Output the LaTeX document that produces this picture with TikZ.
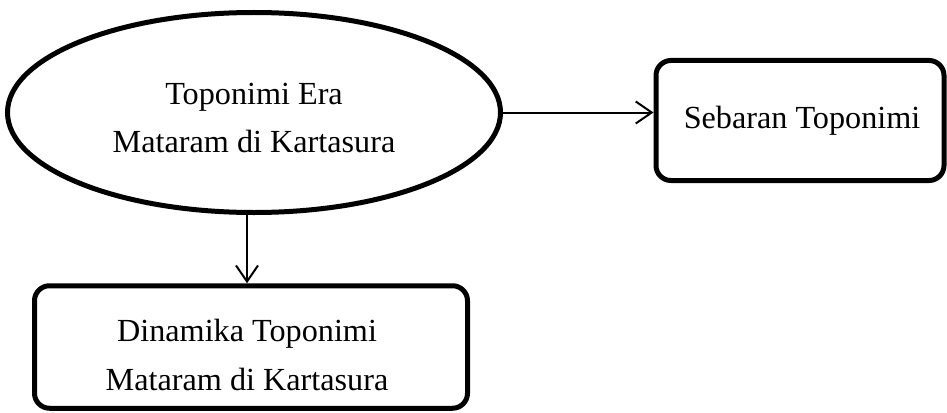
\documentclass[tikz,border=0pt]{standalone}
\usepackage{fontspec}
\setmainfont{Liberation Serif}
\usetikzlibrary{shapes.geometric,arrows.meta}

\tikzset{
  bigtext/.style={font=\fontsize{32.2}{48.5}\selectfont, align=center, inner sep=0pt},
  ovalbox/.style={ellipse, draw, line width=5pt, inner sep=0pt},
  roundbox/.style={rectangle, rounded corners=15pt, draw, line width=5pt, inner sep=0pt},
  link/.style={line width=2pt, -{Straight Barb[length=16pt,width=22pt,line width=2pt]}}
}

\begin{document}
\begin{tikzpicture}[x=1pt,y=-1pt]
	\useasboundingbox (0,0) rectangle (947,412);

	%The source oval
	\node[ovalbox, minimum width=493pt, minimum height=200pt] (era) at (254,112.5) {};
	\node[bigtext] (eratext) at ([yshift=-5.5pt]era.center) {Toponimi Era\\Mataram di Kartasura};

	%The two outcomes
	\node[roundbox, minimum width=288pt, minimum height=120pt] (sebaran) at (800,120.5) {};
	\node[bigtext] (sebarantext) at ([xshift=2pt]sebaran.center) {Sebaran Toponimi};
	\node[roundbox, minimum width=433pt, minimum height=122.5pt] (dinamika) at (251,347) {};
	\node[bigtext] (dinamikatext) at ([xshift=-4pt,yshift=-8pt]dinamika.center) {Dinamika Toponimi\\Mataram di Kartasura};

	\draw[link] (era.east) -- (era.east -| sebaran.west);
	\draw[link] ([xshift=-7pt]era.south) -- ([xshift=-7pt]era.south |- dinamika.north);

\end{tikzpicture}
\end{document}
